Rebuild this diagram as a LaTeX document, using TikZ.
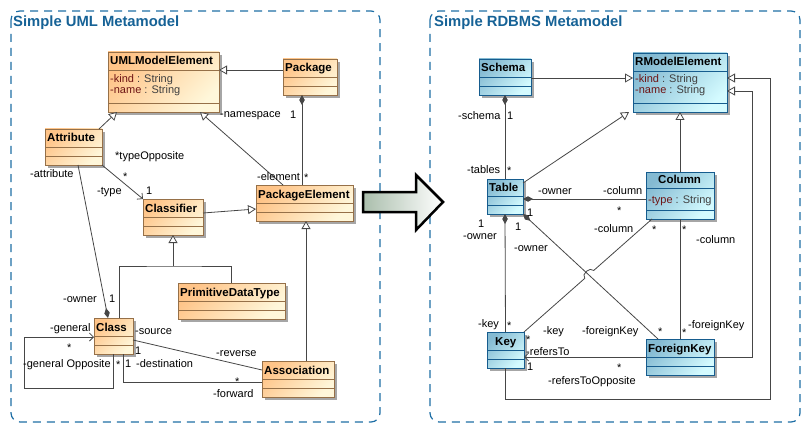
\documentclass[tikz,border=0pt]{standalone}
\usepackage{fontspec}
\setmainfont{Liberation Sans}
\usetikzlibrary{arrows.meta,shadows,calc}

\definecolor{umlA}{RGB}{255,196,136}
\definecolor{umlB}{RGB}{255,247,218}
\definecolor{umlbd}{RGB}{150,112,72}
\definecolor{rdbA}{RGB}{132,186,210}
\definecolor{rdbB}{RGB}{212,251,255}
\definecolor{rdbbd}{RGB}{22,92,142}
\definecolor{panelblue}{RGB}{30,110,165}
\definecolor{ttlblue}{RGB}{22,98,150}
\definecolor{lnk}{RGB}{70,70,70}
\definecolor{agreen}{RGB}{170,190,172}
\definecolor{vis}{RGB}{110,20,20}

\tikzset{
  uml/.style={draw=umlbd, line width=0.8pt, top color=umlA, bottom color=umlB, shading angle=45,
    inner sep=0pt, outer sep=0pt, drop shadow={shadow xshift=3pt, shadow yshift=-3pt, fill=black!35, opacity=1}},
  uml sep/.style={draw=umlbd, line width=0.8pt},
  rdb/.style={draw=rdbbd, line width=0.8pt, top color=rdbA, bottom color=rdbB, shading angle=45,
    inner sep=0pt, outer sep=0pt, drop shadow={shadow xshift=3pt, shadow yshift=-3pt, fill=black!35, opacity=1}},
  rdb sep/.style={draw=rdbbd, line width=0.8pt},
  clsname/.style={anchor=base west, inner sep=0pt, font=\fontsize{11.5}{13}\selectfont\bfseries},
  attr/.style={anchor=base west, inner sep=0pt, text=black!75, font=\fontsize{11}{13}\selectfont},
  lbl/.style={anchor=base west, inner sep=0pt, font=\fontsize{11}{13}\selectfont},
  link/.style={draw=lnk, line width=0.8pt},
  gen/.style={link, -{Triangle[fill=white, length=8pt, width=9pt]}},
  comp/.style={link, {Diamond[length=10pt, width=5.5pt]}-},
  compend/.style={link, -{Diamond[length=10pt, width=5.5pt]}},
  nav/.style={link, -{Straight Barb[length=4pt, width=8pt]}},
  panel/.style={draw=panelblue, line width=1.2pt, dash pattern=on 8pt off 6pt, rounded corners=9pt},
  ttl/.style={anchor=base west, inner sep=0pt, text=ttlblue, font=\fontsize{14.8}{17}\selectfont\bfseries},
  bigarrow/.style={draw=black, line width=2.5pt, line join=miter, left color=agreen, right color=white}
}

% Klasse: [Einzug]{Name}{Stil}{x}{y}{Breite}{Kopfhoehe}{Attributhoehe}{Titel}
\newcommand\umlclass[9][0]{%
  \node[#3, minimum width=#6pt, minimum height=#7pt+#8pt+9pt, anchor=north west] (#2) at (#4,#5) {};
  \draw[#3 sep] (#4,#5+#7) -- ++(#6,0);
  \draw[#3 sep] (#4,#5+#7+#8) -- ++(#6,0);
  \node[clsname] (#2-name) at (#4+2+#1,#5+#7-5) {#9};
}

\begin{document}
\begin{tikzpicture}[x=1pt, y=-1pt]
\useasboundingbox (0,0) rectangle (811,433);

% Rahmen
\draw[panel] (11,11) rectangle (380,422);
\draw[panel] (430,11) rectangle (800,422);
\node[ttl] (umlTitle) at (13,27) {Simple UML Metamodel};
\node[ttl] (rdbTitle) at (434,27) {Simple RDBMS Metamodel};

% UML Klassen
\umlclass{ume}{uml}{108}{52}{111}{18}{33}{UMLModelElement}
\node[attr] (umeKind) at (110,83) {\textcolor{vis}{-kind} : String};
\node[attr] (umeName) at (110,94) {\textcolor{vis}{-name} : String};
\umlclass{pkg}{uml}{283}{59}{54}{18}{9}{Package}
\umlclass{att}{uml}{45}{129}{57}{18}{9}{Attribute}
\umlclass{clf}{uml}{143}{199}{60}{18}{9}{Classifier}
\umlclass{pke}{uml}{256}{185}{97}{18}{9}{PackageElement}
\umlclass{pdt}{uml}{178}{283}{107}{18}{9}{PrimitiveDataType}
\umlclass{cls}{uml}{94}{318}{39}{18}{9}{Class}
\umlclass{asc}{uml}{262}{361}{72}{18}{9}{Association}

% UML Verbindungen
\draw[gen] (pkg.west |- 0,70) -- (ume.east |- 0,70);
\draw[gen] ([xshift=-3pt]att.north east) -- (ume.south -| 117,0);
\draw[gen] (pke.north -| 283,0) -- (ume.south -| 200,0);
\draw[comp] (pkg.south -| 302,0) -- (pke.north -| 302,0);
\draw[nav] (att.south east) -- (clf.north west);
\draw[compend] (att.south -| 78,0) -- (cls.north -| 108,0);
\draw[gen] (clf.east |- 0,213) -- (pke.west |- 0,209);
\coordinate (clfJoin) at (clf.south |- 0,266);
\draw[link] (cls.north -| 119,0) |- (clfJoin) -| (pdt.north -| 231,0);
\draw[gen] (clfJoin) -- (clf.south);
\draw[gen] (asc.north -| 306,0) -- (pke.south -| 306,0);
\coordinate (selfLoop) at (24,388);
\draw[nav] (cls.south -| 113,0) |- (selfLoop) |- (cls.west |- 0,337);
\draw[link] (cls.east |- 0,340) -- (asc.west |- 0,370);
\draw[link] (cls.south -| 123,0) |- (asc.west |- 0,382);

% UML Beschriftungen
\node[lbl] (lNamespace) at (220,118) {-namespace};
\node[lbl] (lPkgOne) at (290,119) {1};
\node[lbl] (lTypeOpp) at (115,159) {*typeOpposite};
\node[lbl] (lAttr) at (30,177) {-attribute};
\node[lbl] (lTypeStar) at (123,180) {*};
\node[lbl] (lElement) at (257,180) {-element};
\node[lbl] (lElemStar) at (304,181) {*};
\node[lbl] (lType) at (97,194) {-type};
\node[lbl] (lTypeOne) at (146,194) {1};
\node[lbl] (lOwner) at (63,302) {-owner};
\node[lbl] (lOwnerOne) at (109,302) {1};
\node[lbl] (lGeneral) at (50,331) {-general};
\node[lbl] (lGenStar) at (67,351) {*};
\node[lbl] (lGenOpp) at (23,367) {-general Opposite};
\node[lbl] (lGenOppStar) at (116,368) {*};
\node[lbl] (lDestOne) at (125,367) {1};
\node[lbl] (lDest) at (136,367) {-destination};
\node[lbl] (lSource) at (135,334) {-source};
\node[lbl] (lSrcOne) at (135,354) {1};
\node[lbl] (lReverse) at (216,356) {-reverse};
\node[lbl] (lFwdStar) at (235,385) {*};
\node[lbl] (lForward) at (213,397) {-forward};

% RDBMS Klassen
\umlclass{sch}{rdb}{479}{59}{52}{18}{9}{Schema}
\umlclass{rme}{rdb}{633}{53}{94}{18}{32}{RModelElement}
\node[attr] (rmeKind) at (635,83) {\textcolor{vis}{-kind} : String};
\node[attr] (rmeName) at (635,94) {\textcolor{vis}{-name} : String};
\umlclass{tbl}{rdb}{487}{179}{36}{17}{9}{Table}
\umlclass[10]{col}{rdb}{646}{172}{68}{16}{22}{Column}
\node[attr] (colType) at (648,203) {\textcolor{vis}{-type} : String};
\umlclass[6]{key}{rdb}{487}{332}{37}{18}{9}{Key}
\umlclass{fk}{rdb}{646}{339}{68}{18}{9}{ForeignKey}

% RDBMS Verbindungen
\draw[gen] (sch.east |- 0,78) -- (rme.west |- 0,78);
\draw[gen] (tbl.east |- 0,183) -- (rme.south -| 629,0);
\draw[gen] (col.north) -- (rme.south -| col.north);
\draw[gen] (key.south) |- (770,399) |- (rme.east |- 0,78);
\draw[gen] (fk.east |- 0,357) -| (752,91) -- (rme.east |- 0,91);
\draw[comp] (sch.south) -- (tbl.north);
\draw[comp] (tbl.east |- 0,199) -- (col.west |- 0,199);
\draw[comp] (tbl.south) -- (key.north);
\draw[comp] (tbl.south east) -- (fk.north -| 658,0);
\coordinate (ckStart) at ([xshift=6pt]col.south west);
\draw[link] (ckStart) -- ($(ckStart)!0.455!(key.north east)$)
  .. controls +(-4,-4) and +(-4,-4) .. ($(ckStart)!0.525!(key.north east)$) -- (key.north east);
\draw[link] (col.south) -- (fk.north);
\draw[nav] (fk.west |- 0,357) -- (key.east |- 0,357);

% RDBMS Beschriftungen
\node[lbl] (lSchema) at (458,120) {-schema};
\node[lbl] (lSchOne) at (507,120) {1};
\node[lbl] (lTables) at (467,173) {-tables};
\node[lbl] (lTabStar) at (507,175) {*};
\node[lbl] (lColOwner) at (538,194) {-owner};
\node[lbl] (lColumn) at (603,194) {-column};
\node[lbl] (lColStar) at (617,214) {*};
\node[lbl] (lTfkOne) at (527,216) {1};
\node[lbl] (lKeyOne) at (478,227) {1};
\node[lbl] (lKeyOwner) at (463,239) {-owner};
\node[lbl] (lTfkOneB) at (515,230) {1};
\node[lbl] (lCkColumn) at (594,232) {-column};
\node[lbl] (lCkStar) at (652,233) {*};
\node[lbl] (lFkOwner) at (514,251) {-owner};
\node[lbl] (lCfStar) at (682,233) {*};
\node[lbl] (lCfColumn) at (696,243) {-column};
\node[lbl] (lKey) at (478,327) {-key};
\node[lbl] (lKeyStar) at (507,329) {*};
\node[lbl] (lCkKey) at (543,334) {-key};
\node[lbl] (lForeignKey) at (582,334) {-foreignKey};
\node[lbl] (lFkStar) at (658,335) {*};
\node[lbl] (lCfStarB) at (682,336) {*};
\node[lbl] (lCfFk) at (688,328) {-foreignKey};
\node[lbl] (lCkStarB) at (526,343) {*};
\node[lbl] (lRefersTo) at (526,355) {-refersTo};
\node[lbl] (lRefOne) at (527,370) {1};
\node[lbl] (lRefStar) at (617,371) {*};
\node[lbl] (lRefOpp) at (548,384) {-refersToOpposite};

% Pfeil
\draw[bigarrow] (363,192) -- (416,192) -- (416,175) -- (443,202) -- (416,230) -- (416,212) -- (363,212) -- cycle;
\end{tikzpicture}
\end{document}
